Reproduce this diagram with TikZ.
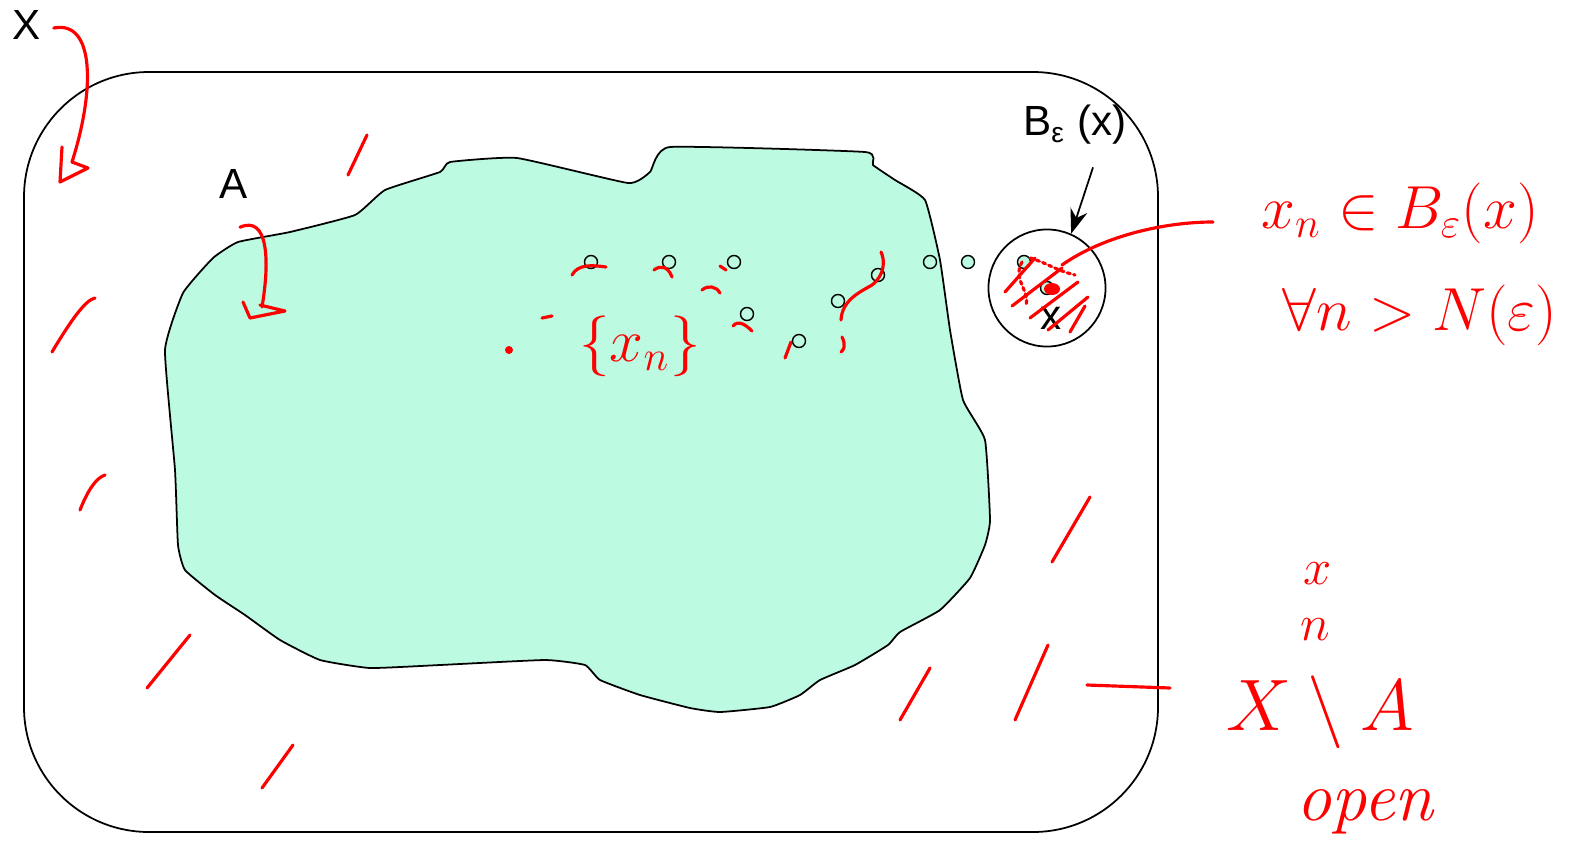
\documentclass[tikz,border=0pt]{standalone}
\usepackage{fontspec}
\usetikzlibrary{arrows.meta}
\newfontfamily\labelfont{Liberation Sans}
\definecolor{mint}{RGB}{188,250,226}
\tikzset{
  seqpt/.style={circle, draw, fill=mint, minimum size=0.13cm, inner sep=0pt, line width=0.4pt},
  lbl/.style={font=\labelfont\fontsize{12}{14}\selectfont, inner sep=0pt},
  hand/.style={red, line width=0.9pt, line cap=round, line join=round},
  handtext/.style={red, inner sep=0pt, font=\fontsize{18}{22}\selectfont},
}
\begin{document}
\begin{tikzpicture}[x=0.01cm, y=-0.01cm]
    \useasboundingbox (0,0) rectangle (1573,848);
    \draw[line width=0.5pt, rounded corners=1.25cm] (24,72) rectangle (1158,832);
    \draw[line width=0.5pt, fill=mint] plot[smooth cycle, tension=0.25] coordinates {
        (183,293) (213,258) (238,242) (290,232) (355,215) (385,190) (440,172) (450,162)
        (517,158) (628,183) (650,172) (670,147) (865,152) (873,165) (895,180) (925,200)
        (940,260) (950,330) (963,400) (985,440) (990,520) (985,545) (970,578) (940,610)
        (900,632) (888,645) (855,665) (820,680) (800,695) (770,707) (720,712) (690,708)
        (640,695) (600,680) (585,665) (545,660) (440,665) (370,668) (320,660) (280,640)
        (245,615) (215,595) (185,570) (178,545) (175,470) (165,350)};
    \node[lbl] (Xlbl) at (27,25) {X};
    \node[lbl] (Albl) at (234,184) {A};
    \node[circle, draw, minimum size=1.17cm, inner sep=0pt, line width=0.5pt] (ball) at (1047,288) {};
    \node[lbl] (blbl) at (1075,125) {B\textsubscript{ε} (x)};
    \draw[-{Stealth[length=7pt,width=5pt]}, line width=0.5pt] ([shift={(18,22)}]blbl.south) -- (ball.66);
    \node[seqpt] (p1) at (591,262) {};
    \node[seqpt] (p2) at (669,262) {};
    \node[seqpt] (p3) at (734,262) {};
    \node[seqpt] (p4) at (747,314) {};
    \node[seqpt] (p5) at (799,341) {};
    \node[seqpt] (p6) at (838,301) {};
    \node[seqpt] (p7) at (878,275) {};
    \node[seqpt] (p8) at (930,262) {};
    \node[seqpt] (p9) at (968,262) {};
    \node[seqpt] (p10) at (1024,262) {};
    \node[seqpt] (xpt) at (1047,288) {};
    \node[lbl] (xlbl) at (1051,318) {x};
    % red notes
    \draw[hand] (Xlbl.east) ++(12,3) .. controls (95,20) and (95,90) .. (72,162);
    \draw[hand] (62,147) -- (60,182) -- (88,168) -- (72,162);
    \draw[hand] (Albl.south) ++(6,28) .. controls (268,215) and (270,260) .. (262,307);
    \draw[hand] (243,302) -- (250,318) -- (285,311) -- (260,305);
    \draw[hand] (52,352) .. controls (70,322) and (85,300) .. (95,298);
    \draw[hand] (80,510) .. controls (88,490) and (96,478) .. (105,475);
    \draw[hand] (147,688) -- (190,635);
    \draw[hand] (262,788) -- (293,745);
    \draw[hand] (348,175) -- (367,135);
    \draw[hand] (1052,562) -- (1090,497);
    \draw[hand] (900,720) -- (930,668);
    \draw[hand] (1015,720) -- (1048,645);
    \draw[hand] (1087,685) -- (1170,688);
    \fill[red] (509,350) circle[radius=0.04cm];
    \draw[hand] (572,275) .. controls (578,264) and (592,265) .. (606,267);
    \draw[hand] (654,270) .. controls (660,265) and (668,266) .. (672,277);
    \draw[hand] (720,266) -- (726,270);
    \draw[hand] (702,290) .. controls (708,285) and (716,286) .. (720,293);
    \draw[hand] (542,318) -- (552,316);
    \draw[hand] (733,326) .. controls (738,320) and (745,324) .. (752,331);
    \draw[hand] (785,358) -- (791,342);
    \draw[hand] (842,337) .. controls (846,345) and (844,350) .. (841,352);
    \draw[hand] (841,320) .. controls (842,300) and (860,292) .. (872,285)
        .. controls (885,275) and (885,260) .. (881,252);
    \draw[hand] (1005,292) -- (1035,258);
    \draw[hand] (1012,306) -- (1062,268);
    \draw[hand] (1030,318) -- (1078,282);
    \draw[hand] (1048,330) -- (1088,297);
    \draw[hand] (1070,332) -- (1085,306);
    \draw[hand, densely dotted] (1022,262) .. controls (1012,280) and (1030,290) .. (1026,305);
    \draw[hand, densely dotted] (1030,258) .. controls (1045,262) and (1055,270) .. (1075,275);
    \fill[red] (1052,289) ellipse[x radius=0.08cm, y radius=0.06cm];
    \coordinate (ballin) at (1062,265);
    \coordinate (memberend) at (1213,222);
    \draw[hand] (ballin) .. controls (1100,238) and (1160,222) .. (memberend);
    \node[handtext] (seq) at (640,346) {$\{x_n\}$};
    \node[handtext] (member) at (1400,213) {$x_n \in B_\varepsilon(x)$};
    \node[handtext] (forall) at (1420,315) {$\forall n > N(\varepsilon)$};
    \node[handtext, font=\fontsize{15}{18}\selectfont] (xn) at (1318,574) {$x$};
    \node[handtext, font=\fontsize{15}{18}\selectfont] (nn) at (1315,630) {$n$};
    \node[handtext, font=\fontsize{22}{26}\selectfont] (comp) at (1320,712) {$X\setminus A$};
    \node[handtext, font=\itshape\fontsize{20}{24}\selectfont] (open) at (1365,812) {open};
\end{tikzpicture}
\end{document}
